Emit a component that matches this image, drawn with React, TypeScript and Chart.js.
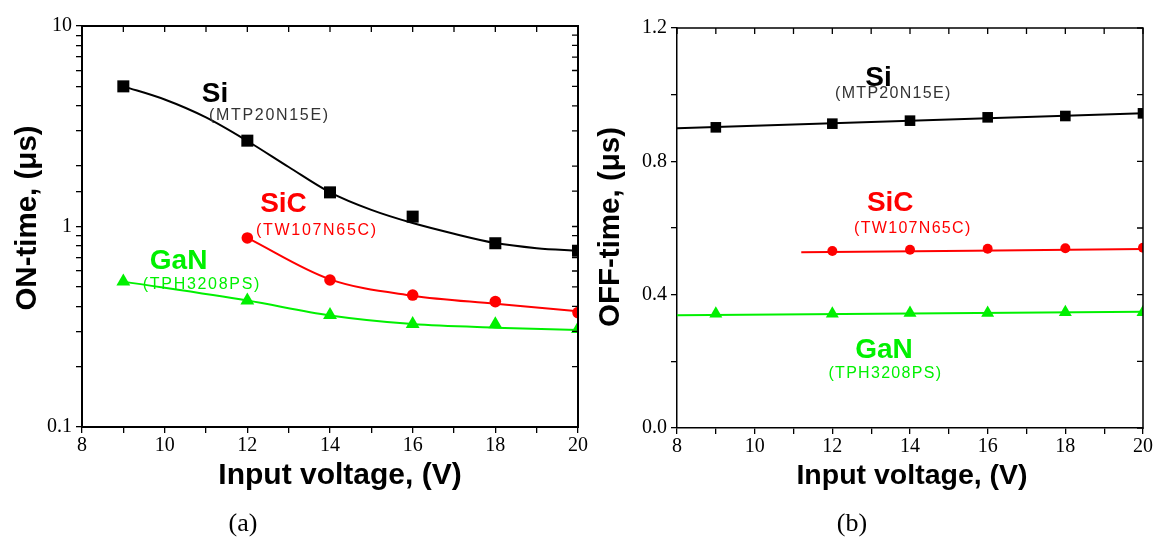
import React, { useEffect, useRef } from 'react';
import { Chart, registerables } from 'chart.js';

Chart.register(...registerables);

// ---------- Data (a) ON-time ----------
const voltagesOn = [9, 12, 14, 16, 18, 20];
const voltagesSiCOn = [12, 14, 16, 18, 20];
const siOn = [5.0, 2.68, 1.48, 1.12, 0.825, 0.757];
// Si fitted curve
const siOnFitX = [9, 10, 11, 12, 13, 14, 15, 16, 17, 18, 19, 20];
const siOnFit = [5.0, 4.3, 3.5, 2.67, 1.98, 1.48, 1.21, 1.04, 0.92, 0.827, 0.78, 0.757];
const sicOn = [0.877, 0.541, 0.455, 0.422, 0.372];
const sicOnFit = [0.877, 0.545, 0.452, 0.412, 0.378];
const ganOn = [0.531, 0.427, 0.362, 0.326, 0.325, 0.308];
const ganOnFit = [0.531, 0.427, 0.36, 0.326, 0.313, 0.305];

// ---------- Data (b) OFF-time ----------
const voltagesOff = [9, 12, 14, 16, 18, 20];
const voltagesSiCOff = [12, 14, 16, 18, 20];
const siOff = [0.902, 0.913, 0.922, 0.932, 0.936, 0.944];
const sicOff = [0.531, 0.535, 0.538, 0.539, 0.541];
const ganOff = [0.343, 0.343, 0.345, 0.345, 0.347, 0.347];
const siOffFitX = [8, 20];
const siOffFitY = [0.899, 0.944];
const sicOffFitX = [11.2, 20];
const sicOffFitY = [0.527, 0.537];
const ganOffFitX = [8, 20];
const ganOffFitY = [0.338, 0.349];

// ---------- Tick labels ----------
const xMajorTicks = [8, 10, 12, 14, 16, 18, 20];
const logMajorTicks = [0.1, 1, 10];
const linMajorTicks = [0.0, 0.4, 0.8, 1.2];

const BLACK = '#000000';
const RED = '#ff0000';
const GREEN = '#00f000';

const pts = (xs: number[], ys: number[]) => xs.map((x, i) => ({ x, y: ys[i] }));

const markerDs = (data: any, color: string, style: string, r: number) => ({
  data,
  showLine: false,
  pointStyle: style,
  pointRadius: r,
  pointHoverRadius: r,
  backgroundColor: color,
  borderColor: color,
  borderWidth: 0,
  clip: 0,
  order: 0,
});

const lineDs = (data: any, color: string, width: number) => ({
  data,
  showLine: true,
  pointRadius: 0,
  borderColor: color,
  backgroundColor: color,
  borderWidth: width,
  cubicInterpolationMode: 'monotone',
  clip: 0,
  order: 1,
});

const overlayPlugin = {
  id: 'overlay',
  afterDraw(chart: any, _args: any, opts: any) {
    const { ctx, chartArea: a, scales } = chart;
    const xs = scales.x;
    const ys = scales.y;
    ctx.save();
    // top & right frame
    ctx.strokeStyle = BLACK;
    ctx.lineWidth = opts.frameWidth;
    ctx.beginPath();
    ctx.moveTo(a.left - 1, a.top);
    ctx.lineTo(a.right, a.top);
    ctx.lineTo(a.right, a.bottom + 1);
    ctx.stroke();
    // inner ticks (top & right)
    ctx.lineWidth = 1.3;
    ctx.beginPath();
    xs.ticks.forEach((t: any) => {
      const px = xs.getPixelForValue(t.value);
      ctx.moveTo(px, a.top);
      ctx.lineTo(px, a.top + 6);
    });
    ys.ticks.forEach((t: any) => {
      const py = ys.getPixelForValue(t.value);
      ctx.moveTo(a.right, py);
      ctx.lineTo(a.right - 6, py);
    });
    ctx.stroke();
    // annotations
    ctx.textAlign = 'left';
    ctx.textBaseline = 'alphabetic';
    for (const an of opts.annotations) {
      ctx.font = an.font;
      ctx.fillStyle = an.color;
      (ctx as any).letterSpacing = an.spacing || '0px';
      ctx.fillText(an.text, xs.getPixelForValue(an.x), ys.getPixelForValue(an.y));
    }
    (ctx as any).letterSpacing = '0px';
    // axis titles
    ctx.fillStyle = BLACK;
    ctx.font = opts.xTitleFont;
    ctx.textAlign = 'center';
    ctx.fillText(opts.xTitle, opts.xTitlePos[0], opts.xTitlePos[1]);
    ctx.save();
    ctx.translate(opts.yTitlePos[0], opts.yTitlePos[1]);
    ctx.rotate(-Math.PI / 2);
    ctx.font = opts.yTitleFont;
    ctx.textBaseline = 'middle';
    ctx.fillText(opts.yTitle, 0, 0);
    ctx.restore();
    // panel caption
    ctx.font = '26px "Liberation Serif"';
    ctx.textBaseline = 'alphabetic';
    ctx.fillText(opts.caption, opts.captionPos[0], opts.captionPos[1]);
    ctx.restore();
  },
};

const fixAxis = (size: number, horizontal: boolean) => (s: any) => {
  if (horizontal) s.height = size;
  else s.width = size;
  s.paddingLeft = 0;
  s.paddingRight = 0;
  s.paddingTop = 0;
  s.paddingBottom = 0;
};

const tickFont = { family: '"Liberation Serif", serif', size: 20 };

function makeXScale(height: number, borderW: number) {
  return {
    type: 'linear',
    position: 'bottom',
    min: 8,
    max: 20,
    afterFit: fixAxis(height, true),
    border: { display: true, color: BLACK, width: borderW },
    grid: { drawOnChartArea: false, drawTicks: true, tickLength: 6, color: BLACK, lineWidth: 1.3 },
    ticks: {
      stepSize: 1,
      autoSkip: false,
      maxRotation: 0,
      padding: 1,
      color: BLACK,
      font: tickFont,
      callback: (v: number) => (xMajorTicks.some((m) => Math.abs(m - v) < 1e-6) ? String(v) : ''),
    },
  };
}

function configA() {
  return {
    type: 'scatter',
    data: {
      datasets: [
        lineDs(pts(siOnFitX, siOnFit), BLACK, 2),
        lineDs(pts(voltagesSiCOn, sicOnFit), RED, 2),
        lineDs(pts(voltagesOn, ganOnFit), GREEN, 2),
        markerDs(pts(voltagesOn, siOn), BLACK, 'rect', 8.5),
        markerDs(pts(voltagesSiCOn, sicOn), RED, 'circle', 5.8),
        markerDs(pts(voltagesOn, ganOn), GREEN, 'triangle', 8),
      ],
    },
    options: {
      responsive: false,
      animation: false,
      devicePixelRatio: 1,
      layout: { padding: { top: 26, right: 12, left: 0, bottom: 0 } },
      plugins: {
        legend: { display: false },
        tooltip: { enabled: false },
        overlay: {
          frameWidth: 2,
          annotations: [
            { text: 'Si', x: 10.9, y: 4.19, color: BLACK, font: 'bold 28px "Liberation Sans"' },
            { text: '(MTP20N15E)', x: 11.07, y: 3.4, color: '#333333', font: '16px "Liberation Sans"', spacing: '1.7px' },
            { text: 'SiC', x: 12.31, y: 1.185, color: RED, font: 'bold 28px "Liberation Sans"' },
            { text: '(TW107N65C)', x: 12.21, y: 0.907, color: RED, font: '16px "Liberation Sans"', spacing: '1.7px' },
            { text: 'GaN', x: 9.64, y: 0.615, color: GREEN, font: 'bold 28px "Liberation Sans"' },
            { text: '(TPH3208PS)', x: 9.47, y: 0.488, color: GREEN, font: '16px "Liberation Sans"', spacing: '1.7px' },
          ],
          xTitle: 'Input voltage, (V)',
          xTitleFont: 'bold 30px "Liberation Sans"',
          xTitlePos: [340, 484],
          yTitle: 'ON-time, (\u03bcs)',
          yTitleFont: 'bold 29.5px "Liberation Sans"',
          yTitlePos: [28, 218],
          caption: '(a)',
          captionPos: [243, 531],
        },
      },
      scales: {
        x: makeXScale(115, 2),
        y: {
          type: 'logarithmic',
          position: 'left',
          min: 0.1,
          max: 10,
          afterFit: fixAxis(82, false),
          border: { display: true, color: BLACK, width: 2 },
          grid: { drawOnChartArea: false, drawTicks: true, tickLength: 6, color: BLACK, lineWidth: 1.3 },
          ticks: {
            autoSkip: false,
            padding: 4,
            color: BLACK,
            font: tickFont,
            callback: (v: number) => {
              const m = logMajorTicks.find((t) => Math.abs(t - v) < 1e-9);
              return m === undefined ? '' : String(m);
            },
          },
        },
      },
    },
    plugins: [overlayPlugin],
  };
}

function configB() {
  return {
    type: 'scatter',
    data: {
      datasets: [
        lineDs(pts(siOffFitX, siOffFitY), BLACK, 2),
        lineDs(pts(sicOffFitX, sicOffFitY), RED, 2),
        lineDs(pts(ganOffFitX, ganOffFitY), GREEN, 2),
        markerDs(pts(voltagesOff, siOff), BLACK, 'rect', 7.5),
        markerDs(pts(voltagesSiCOff, sicOff), RED, 'circle', 5),
        markerDs(pts(voltagesOff, ganOff), GREEN, 'triangle', 7.5),
      ],
    },
    options: {
      responsive: false,
      animation: false,
      devicePixelRatio: 1,
      layout: { padding: { top: 28, right: 18, left: 0, bottom: 0 } },
      plugins: {
        legend: { display: false },
        tooltip: { enabled: false },
        overlay: {
          frameWidth: 1.5,
          annotations: [
            { text: 'Si', x: 12.85, y: 1.025, color: BLACK, font: 'bold 28px "Liberation Sans"' },
            { text: '(MTP20N15E)', x: 12.07, y: 0.989, color: '#333333', font: '16px "Liberation Sans"', spacing: '1.3px' },
            { text: 'SiC', x: 12.89, y: 0.65, color: RED, font: 'bold 28px "Liberation Sans"' },
            { text: '(TW107N65C)', x: 12.56, y: 0.585, color: RED, font: '16px "Liberation Sans"', spacing: '1.3px' },
            { text: 'GaN', x: 12.59, y: 0.21, color: GREEN, font: 'bold 28px "Liberation Sans"' },
            { text: '(TPH3208PS)', x: 11.9, y: 0.15, color: GREEN, font: '16px "Liberation Sans"', spacing: '1.3px' },
          ],
          xTitle: 'Input voltage, (V)',
          xTitleFont: 'bold 28.5px "Liberation Sans"',
          xTitlePos: [322, 484],
          yTitle: 'OFF-time, (\u03bcs)',
          yTitleFont: 'bold 29.5px "Liberation Sans"',
          yTitlePos: [21, 227],
          caption: '(b)',
          captionPos: [262, 531],
        },
      },
      scales: {
        x: makeXScale(114, 1.5),
        y: {
          type: 'linear',
          position: 'left',
          min: 0,
          max: 1.2,
          afterFit: fixAxis(87, false),
          border: { display: true, color: BLACK, width: 1.5 },
          grid: { drawOnChartArea: false, drawTicks: true, tickLength: 6, color: BLACK, lineWidth: 1.3 },
          ticks: {
            stepSize: 0.2,
            autoSkip: false,
            padding: 4,
            color: BLACK,
            font: tickFont,
            callback: (v: number) => {
              const m = linMajorTicks.find((t) => Math.abs(t - v) < 1e-6);
              return m === undefined ? '' : m.toFixed(1);
            },
          },
        },
      },
    },
    plugins: [overlayPlugin],
  };
}

function ChartCanvas({ makeConfig, left, width, height }: { makeConfig: () => any; left: number; width: number; height: number }) {
  const ref = useRef<HTMLCanvasElement>(null);
  useEffect(() => {
    const chart = new Chart(ref.current as HTMLCanvasElement, makeConfig());
    return () => chart.destroy();
  }, []);
  return (
    <canvas
      ref={ref}
      width={width}
      height={height}
      style={{ position: 'absolute', left, top: 0, width, height, display: 'block' }}
    />
  );
}

export default function App() {
  return (
    <div style={{ position: 'absolute', left: 0, top: 0, width: 1161, height: 542, background: '#ffffff', overflow: 'hidden' }}>
      <ChartCanvas makeConfig={configA} left={0} width={590} height={542} />
      <ChartCanvas makeConfig={configB} left={590} width={571} height={542} />
    </div>
  );
}
